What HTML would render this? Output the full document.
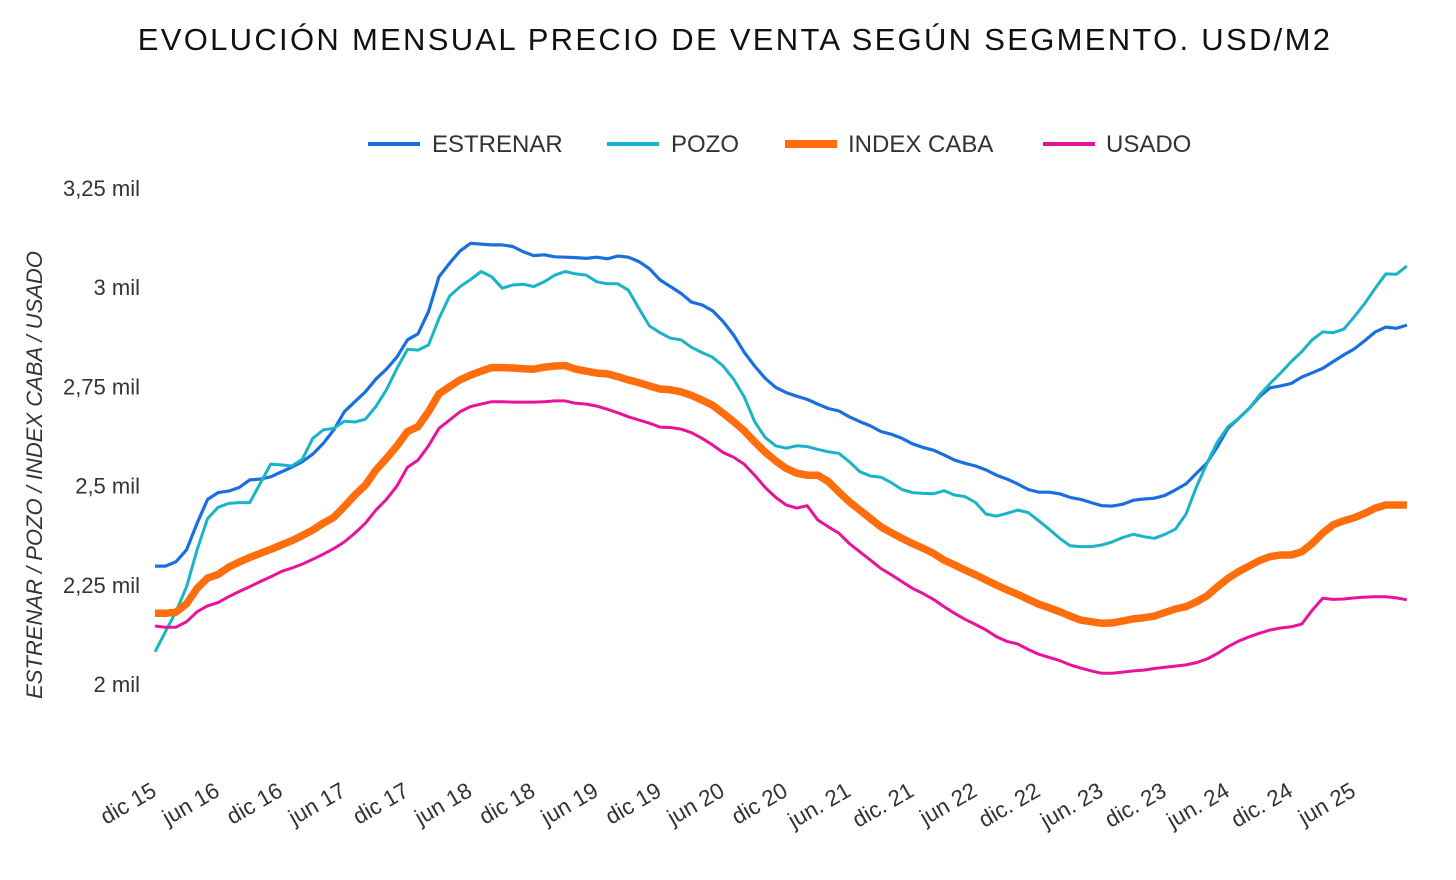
<!DOCTYPE html>
<html><head><meta charset="utf-8">
<style>
body{margin:0;background:#fff;}
svg{display:block;font-family:"Liberation Sans",sans-serif;}
</style></head>
<body>
<svg id="chart" width="1456" height="880" viewBox="0 0 1456 880" xmlns="http://www.w3.org/2000/svg">
<rect width="1456" height="880" fill="#fff"/>
<text x="735" y="50" text-anchor="middle" font-size="31" fill="#111" letter-spacing="2.3">EVOLUCIÓN MENSUAL PRECIO DE VENTA SEGÚN SEGMENTO. USD/M2</text>
<g font-size="24" fill="#333">
 <g><line x1="368" y1="144" x2="420" y2="144" stroke="#1a6fe0" stroke-width="4"/><text x="432" y="152">ESTRENAR</text></g>
 <g><line x1="607" y1="144" x2="659" y2="144" stroke="#1bb3c8" stroke-width="4"/><text x="671" y="152">POZO</text></g>
 <g><line x1="785" y1="144" x2="837" y2="144" stroke="#ff6d0d" stroke-width="8"/><text x="848" y="152">INDEX CABA</text></g>
 <g><line x1="1043" y1="144" x2="1095" y2="144" stroke="#e8139b" stroke-width="4"/><text x="1106" y="152">USADO</text></g>
</g>
<text transform="translate(42,475) rotate(-90)" text-anchor="middle" font-size="22" font-style="italic" fill="#333">ESTRENAR / POZO / INDEX CABA / USADO</text>
<g id="yaxis"></g>
<g id="xaxis"></g>
<g id="series"></g>
</svg>
<script>
const yTicks=[2000,2250,2500,2750,3000,3250];
const yTickLabels=["2 mil","2,25 mil","2,5 mil","2,75 mil","3 mil","3,25 mil"];
const xTickLabels=["dic 15","jun 16","dic 16","jun 17","dic 17","jun 18","dic 18","jun 19","dic 19","jun 20","dic 20","jun. 21","dic. 21","jun 22","dic. 22","jun. 23","dic. 23","jun. 24","dic. 24","jun 25"];
const estrenar=[2297,2297,2308,2338,2405,2465,2482,2486,2495,2514,2516,2522,2534,2546,2560,2579,2606,2640,2686,2711,2736,2768,2793,2824,2867,2882,2938,3026,3060,3091,3110,3108,3106,3106,3102,3089,3079,3081,3076,3075,3074,3072,3075,3071,3078,3075,3064,3046,3018,3001,2984,2962,2955,2940,2913,2879,2836,2801,2770,2747,2734,2725,2717,2705,2694,2688,2673,2661,2650,2636,2629,2619,2605,2596,2589,2577,2564,2556,2549,2539,2526,2516,2504,2490,2483,2483,2479,2470,2465,2457,2449,2448,2453,2463,2466,2468,2475,2489,2504,2531,2557,2598,2644,2669,2694,2724,2746,2751,2757,2773,2784,2795,2812,2829,2844,2865,2887,2899,2896,2904];
const pozo=[2081,2132,2182,2245,2338,2417,2445,2455,2457,2457,2505,2554,2552,2549,2566,2619,2640,2644,2662,2660,2667,2699,2741,2795,2843,2841,2854,2921,2977,3001,3019,3039,3026,2997,3005,3007,3001,3013,3030,3039,3033,3030,3013,3008,3008,2992,2946,2902,2885,2871,2867,2848,2835,2823,2801,2768,2724,2661,2621,2600,2594,2600,2598,2591,2585,2581,2560,2535,2524,2521,2507,2490,2482,2480,2479,2487,2476,2472,2457,2428,2423,2430,2438,2432,2411,2390,2367,2348,2346,2346,2350,2358,2369,2377,2371,2367,2377,2390,2428,2497,2556,2610,2648,2669,2694,2728,2757,2783,2812,2837,2867,2887,2885,2894,2925,2959,2997,3033,3032,3053];
const indexCaba=[2178,2178,2181,2202,2241,2267,2276,2294,2307,2319,2329,2339,2350,2361,2374,2388,2405,2420,2447,2476,2501,2539,2568,2600,2636,2648,2686,2731,2749,2766,2778,2788,2797,2797,2796,2794,2793,2798,2801,2802,2793,2788,2783,2781,2774,2766,2759,2751,2743,2741,2736,2727,2715,2702,2682,2661,2638,2610,2584,2562,2543,2531,2526,2526,2510,2484,2459,2438,2417,2396,2381,2367,2354,2342,2329,2312,2300,2287,2275,2262,2249,2237,2226,2213,2201,2192,2182,2171,2161,2157,2153,2154,2159,2164,2167,2171,2180,2189,2195,2207,2222,2245,2266,2283,2297,2311,2321,2325,2325,2333,2354,2380,2401,2411,2419,2430,2443,2451,2451,2451];
const usado=[2146,2143,2143,2157,2182,2197,2205,2220,2233,2245,2258,2270,2283,2292,2302,2314,2327,2341,2358,2380,2405,2438,2465,2499,2546,2564,2600,2644,2665,2686,2699,2705,2711,2711,2710,2710,2710,2711,2713,2713,2707,2705,2700,2692,2683,2673,2665,2657,2647,2646,2642,2633,2619,2602,2583,2571,2554,2526,2495,2470,2451,2443,2449,2413,2396,2380,2354,2333,2312,2291,2275,2258,2241,2228,2213,2195,2178,2163,2150,2136,2119,2107,2101,2087,2075,2067,2059,2048,2040,2033,2027,2027,2030,2033,2035,2039,2042,2045,2048,2054,2063,2077,2094,2108,2119,2128,2136,2141,2144,2151,2186,2216,2213,2214,2217,2219,2220,2220,2217,2212];

const NS="http://www.w3.org/2000/svg";
const X0=155,DX=10.52;
function xScale(i){return X0+i*DX;}
function yScale(v){return 684-(v-2000)*0.397;}

const yax=document.getElementById('yaxis');
yTicks.forEach((t,k)=>{
  const tx=document.createElementNS(NS,'text');
  
  
  tx.setAttribute('x',140);tx.setAttribute('y',yScale(t)+8);
  tx.setAttribute('text-anchor','end');tx.setAttribute('font-size','22');tx.setAttribute('fill','#333');
  tx.textContent=yTickLabels[k];yax.appendChild(tx);
});
const xax=document.getElementById('xaxis');
xTickLabels.forEach((l,k)=>{
  const x=xScale(k*6)+3;
  const tx=document.createElementNS(NS,'text');
  
  
  tx.setAttribute('transform','translate('+x+',795) rotate(-30)');
  tx.setAttribute('text-anchor','end');tx.setAttribute('font-size','22.5');tx.setAttribute('fill','#333');
  tx.textContent=l;xax.appendChild(tx);
});
const ser=document.getElementById('series');
function draw(arr,color,w,name){
  const p=document.createElementNS(NS,'path');
  
  
  p.setAttribute('d',arr.map((v,i)=>(i?'L':'M')+xScale(i).toFixed(1)+','+yScale(v).toFixed(1)).join(' '));
  p.setAttribute('fill','none');p.setAttribute('stroke',color);p.setAttribute('stroke-width',w);
  p.setAttribute('stroke-linejoin','round');
  ser.appendChild(p);
}
draw(estrenar,'#1a6fe0',3.2,'series-estrenar');
draw(pozo,'#1bb3c8',3,'series-pozo');
draw(indexCaba,'#ff6d0d',7.5,'series-index-caba');
draw(usado,'#e8139b',3,'series-usado');
</script>
</body></html>
